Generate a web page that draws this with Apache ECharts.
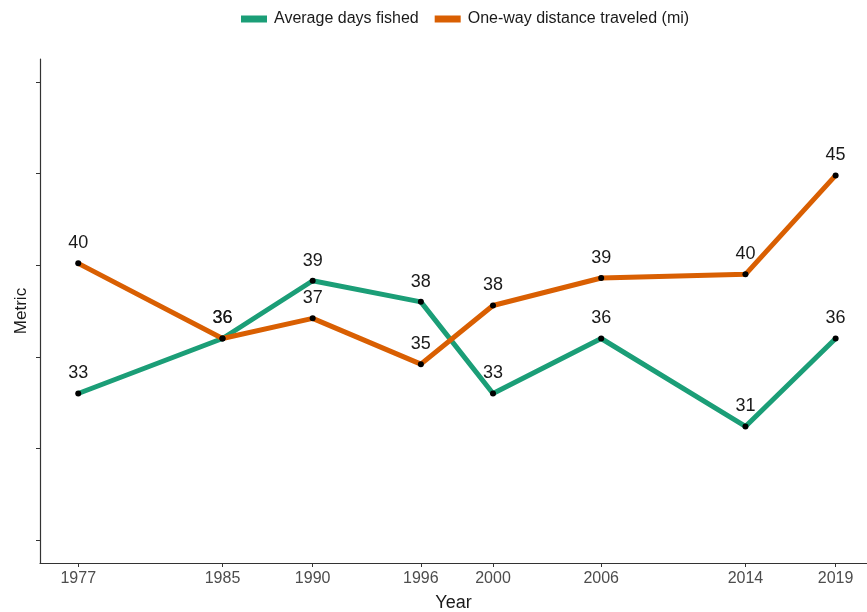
<!DOCTYPE html>
<html>
<head>
<meta charset="utf-8">
<script src="https://cdn.jsdelivr.net/npm/echarts@6/dist/echarts.min.js"></script>
<style>
  html, body { margin: 0; padding: 0; background: #fff; }
  #chart { width: 867px; height: 612px; }
</style>
</head>
<body>
<div id="chart"></div>
<script>
const years = [1977, 1985, 1990, 1996, 2000, 2006, 2014, 2019]
const daysFished = [33.0, 36.0, 39.15, 38.0, 33.0, 36.0, 31.2, 36.0]
const distance = [40.1, 36.0, 37.1, 34.6, 37.8, 39.3, 39.5, 44.9]
const yTicks = [25, 30, 35, 40, 45, 50]

const GREEN = '#1B9E77'
const ORANGE = '#D95F02'
const FONT = 'Liberation Sans, Arial, sans-serif'

const pairs = (vals) => years.map((y, i) => [y, vals[i]])

function lineSeries(name, vals, color) {
  return {
    type: 'line',
    name,
    data: pairs(vals),
    symbol: 'none',
    lineStyle: { color, width: 5 },
    itemStyle: { color },
    z: 2,
  }
}

// black dots + rounded value labels, drawn above both lines
function pointSeries(vals) {
  return {
    type: 'scatter',
    data: pairs(vals),
    symbolSize: 6,
    itemStyle: { color: '#000', opacity: 1 },
    z: 5,
    label: {
      show: true,
      position: 'top',
      distance: 8,
      formatter: (p) => String(Math.round(p.value[1])),
      fontSize: 18,
      fontFamily: FONT,
      color: '#1a1a1a',
      opacity: 1,
    },
  }
}

const chart = echarts.init(document.getElementById('chart'), null, { renderer: 'canvas' })

chart.setOption({
  animation: false,
  legend: {
    data: ['Average days fished', 'One-way distance traveled (mi)'],
    left: 236,
    top: 6,
    icon: 'rect',
    itemWidth: 26,
    itemHeight: 7,
    itemGap: 16,
    textStyle: { fontSize: 16, fontFamily: FONT, color: '#1a1a1a', padding: [0, 0, 0, 2] },
  },
  grid: { left: 40, right: 0, top: 59, bottom: 49, outerBoundsMode: 'none', containLabel: false },
  xAxis: {
    type: 'value',
    min: 1974.88,
    max: 2020.74,
    name: 'Year',
    nameLocation: 'middle',
    nameGap: 31,
    nameTextStyle: { fontSize: 18, fontFamily: FONT, color: '#1a1a1a' },
    splitLine: { show: false },
    axisLine: { show: true, lineStyle: { color: '#333', width: 1.2 } },
    axisTick: { show: true, customValues: years, length: 4, lineStyle: { color: '#333' } },
    axisLabel: {
      customValues: years,
      formatter: (v) => String(v),
      fontSize: 16,
      fontFamily: FONT,
      color: '#4d4d4d',
      margin: 8,
    },
  },
  yAxis: {
    type: 'value',
    min: 23.75,
    max: 51.25,
    name: 'Metric',
    nameLocation: 'middle',
    nameGap: 10,
    nameTextStyle: { fontSize: 17, fontFamily: FONT, color: '#1a1a1a' },
    splitLine: { show: false },
    axisLine: { show: true, lineStyle: { color: '#333', width: 1.2 } },
    axisTick: { show: true, customValues: yTicks, length: 4, lineStyle: { color: '#333' } },
    axisLabel: { show: false },
  },
  series: [
    lineSeries('Average days fished', daysFished, GREEN),
    lineSeries('One-way distance traveled (mi)', distance, ORANGE),
    pointSeries(daysFished),
    pointSeries(distance),
  ],
})
</script>
</body>
</html>
